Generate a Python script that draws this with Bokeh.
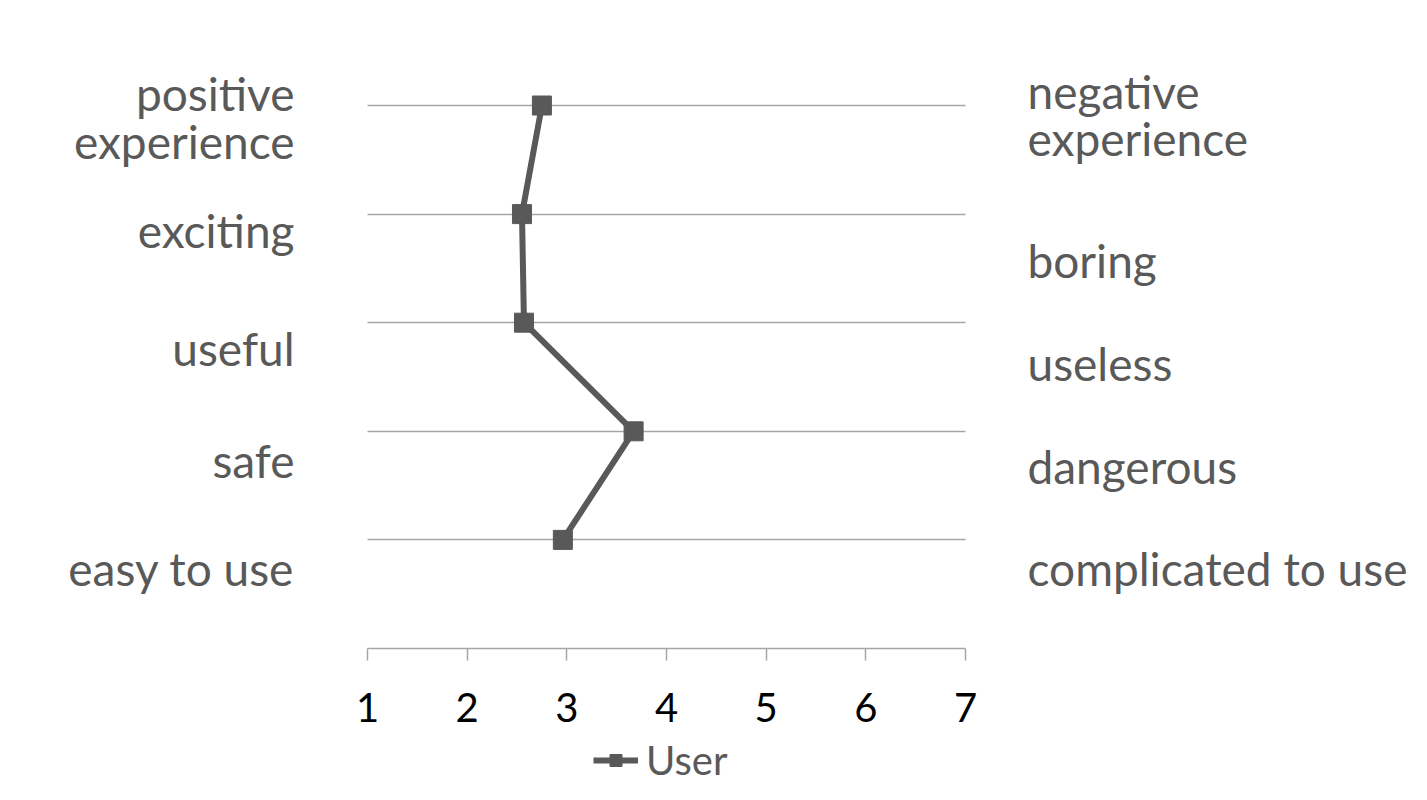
from bokeh.plotting import figure
from bokeh.models import (FixedTicker, Legend, LegendItem, Range1d, LinearAxis,
                          Grid, ColumnDataSource)
from bokeh.core.properties import value
from bokeh.embed import file_html
from bokeh.resources import INLINE

# ---- data ----
left_labels = ["positive\nexperience", "exciting", "useful", "safe", "easy to use"]
right_labels = ["negative\nexperience", "boring", "useless", "dangerous", "complicated to use"]
user_scores = [2.75, 2.55, 2.57, 3.67, 2.96]
x_ticks = [1, 2, 3, 4, 5, 6, 7]
series_name = "User"

# label vertical positions (data units)
left_label_y = [4.89, 3.85, 2.76, 1.73, 0.74]
right_label_y = [4.91, 3.57, 2.62, 1.68, 0.74]

n = len(user_scores)
cat_y = [n - i for i in range(n)]

FONT = "Lato"
GREY = "#595959"
GRID = "#a6a6a6"

# ---- layout geometry (pixels inside the figure) ----
W, H = 1411, 784
X1_PX, X7_PX = 367, 965          # where x=1 and x=7 fall
Y0_PX, UNIT_Y = 648, 108.6       # where y=0 falls (from top), px per category
ux = (X7_PX - X1_PX) / 6.0
x_start = 1 - X1_PX / ux
x_end = 7 + (W - X7_PX) / ux
y_end = Y0_PX / UNIT_Y
y_start = -(H - Y0_PX) / UNIT_Y
left_x = 1 + (294 - X1_PX) / ux
right_x = 1 + (1027 - X1_PX) / ux

p = figure(width=W, height=H, output_backend="svg", toolbar_location=None,
           x_range=Range1d(x_start, x_end), y_range=Range1d(y_start, y_end),
           x_axis_location=None, y_axis_location=None,
           min_border=0, min_border_left=0, min_border_right=0,
           min_border_top=0, min_border_bottom=0,
           outline_line_color=None,
           background_fill_color="white", border_fill_color="white")

# drop default grids
p.center = [r for r in p.center if not isinstance(r, Grid)]

grid = Grid(dimension=1, ticker=FixedTicker(ticks=cat_y), cross_bounds=(1, 7),
            grid_line_color=GRID, grid_line_width=1.5)
p.add_layout(grid)

ax = LinearAxis(fixed_location=0, bounds=(1, 7),
                ticker=FixedTicker(ticks=x_ticks))
ax.axis_line_color = GRID
ax.axis_line_width = 1.5
ax.major_tick_line_color = GRID
ax.major_tick_line_width = 1.5
ax.major_tick_out = 12
ax.major_tick_in = 0
ax.minor_tick_line_color = None
ax.major_label_text_font = FONT
ax.major_label_text_font_size = "40px"
ax.major_label_text_color = "black"
ax.major_label_standoff = 32
p.add_layout(ax, "below")

ln = p.line(user_scores, cat_y, line_color=GREY, line_width=6)
sc = p.scatter(user_scores, cat_y, marker="square", size=19,
               fill_color=GREY, line_color=GREY)

left_src = ColumnDataSource(dict(x=[left_x] * n, y=left_label_y, t=left_labels))
right_src = ColumnDataSource(dict(x=[right_x] * n, y=right_label_y, t=right_labels))
p.text(x="x", y="y", text="t", source=left_src, text_align="right",
       text_baseline="middle", text_font=value(FONT), text_font_size="46px",
       text_color=GREY, text_line_height=0.86)
p.text(x="x", y="y", text="t", source=right_src, text_align="left",
       text_baseline="middle", text_font=value(FONT), text_font_size="46px",
       text_color=GREY, text_line_height=0.86)

legend = Legend(items=[LegendItem(label=series_name, renderers=[ln, sc])],
                location=(593, 0), orientation="horizontal",
                label_text_font=FONT, label_text_font_size="40px",
                label_text_color=GREY, glyph_width=45, glyph_height=30,
                label_standoff=8, padding=2, margin=0, spacing=0,
                border_line_color=None, background_fill_alpha=0)
p.add_layout(legend)

open("out.html", "w").write(file_html(p, INLINE))
